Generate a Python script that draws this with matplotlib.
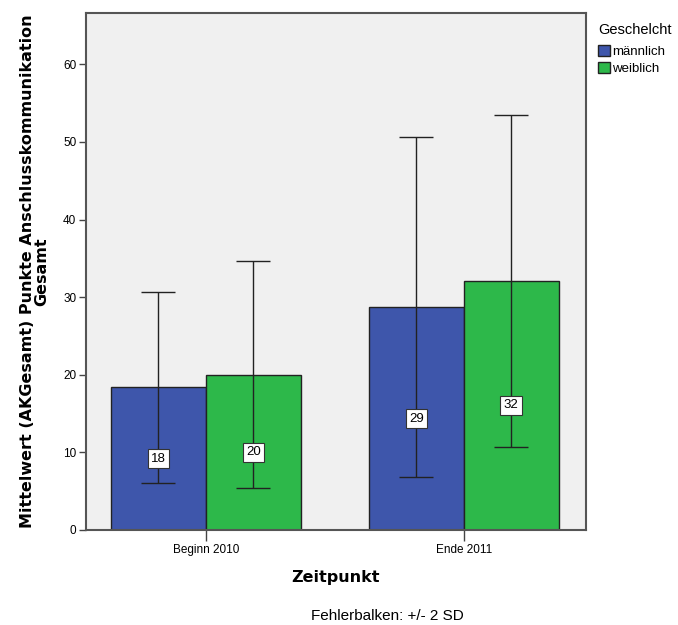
import matplotlib

matplotlib.use("Agg")
import matplotlib.pyplot as plt
import numpy as np
from matplotlib.patches import Patch

# Mittelwerte und 2*SD je Zeitpunkt und Geschlecht
zeitpunkte = ["Beginn 2010", "Ende 2011"]
gruppen = ["männlich", "weiblich"]
mittel_m = [18.4, 28.7]
mittel_w = [20.0, 32.1]
zwei_sd_m = [12.3, 21.9]
zwei_sd_w = [14.6, 21.4]
labels_m = ["18", "29"]
labels_w = ["20", "32"]

BLAU = "#3E56AB"
GRUEN = "#2DB84A"

fig = plt.figure(figsize=(6.78, 6.25), dpi=100)
ax = fig.add_axes([0.1268, 0.152, 0.737, 0.827])
ax.set_facecolor("#F0F0F0")

x = np.arange(len(zeitpunkte))
w = 0.368
for off, mittel, sd, lab, col in ((-w / 2, mittel_m, zwei_sd_m, labels_m, BLAU),
                                  (w / 2, mittel_w, zwei_sd_w, labels_w, GRUEN)):
    ax.bar(x + off, mittel, width=w, color=col, edgecolor="#222222", lw=1.0, zorder=2)
    ax.errorbar(x + off, mittel, yerr=sd, fmt="none", ecolor="#222222",
                elinewidth=1.0, capsize=12, capthick=1.0, zorder=3)
    for xi, m, t in zip(x + off, mittel, lab):
        ax.text(xi, m / 2, t, ha="center", va="center", fontsize=9.5,
                family="Liberation Sans", zorder=4,
                bbox=dict(boxstyle="square,pad=0.25", fc="white", ec="#333333", lw=0.8))

ax.set_xlim(-0.465, 1.473)
ax.set_ylim(0, 66.6)
ax.set_yticks(range(0, 61, 10))
ax.set_xticks(x)
ax.set_xticklabels(zeitpunkte)
for lab in ax.get_xticklabels() + ax.get_yticklabels():
    lab.set_family("Liberation Sans")
    lab.set_fontsize(8.5)
ax.tick_params(axis="y", length=5, width=1, color="#444444", pad=2)
ax.tick_params(axis="x", length=8, width=1, color="#444444", pad=2)
for s in ax.spines.values():
    s.set_color("#555555")
    s.set_linewidth(1.5)

ax.set_ylabel("Mittelwert (AKGesamt) Punkte Anschlusskommunikation\nGesamt",
              fontsize=11.5, fontweight="bold", labelpad=10, linespacing=0.95)
ax.set_xlabel("Zeitpunkt", fontsize=11.5, fontweight="bold", labelpad=10)

fig.text(0.572, 0.004, "Fehlerbalken: +/- 2 SD", ha="center", va="bottom",
         fontsize=11, family="Liberation Sans")

# Legende rechts neben dem Diagramm
fig.text(0.882, 0.952, "Geschelcht", ha="left", va="center",
         fontsize=10.5, family="Liberation Sans")
handles = [Patch(facecolor=BLAU, edgecolor="#222222"),
           Patch(facecolor=GRUEN, edgecolor="#222222")]
fig.legend(handles, gruppen, loc="upper left",
           bbox_to_anchor=(0.882, 0.928), frameon=False,
           handlelength=0.9, handleheight=0.9, handletextpad=0.2,
           labelspacing=0.3, borderaxespad=0, borderpad=0,
           prop={"family": "Liberation Sans", "size": 9.5})

fig.savefig("out.png", dpi=100)
